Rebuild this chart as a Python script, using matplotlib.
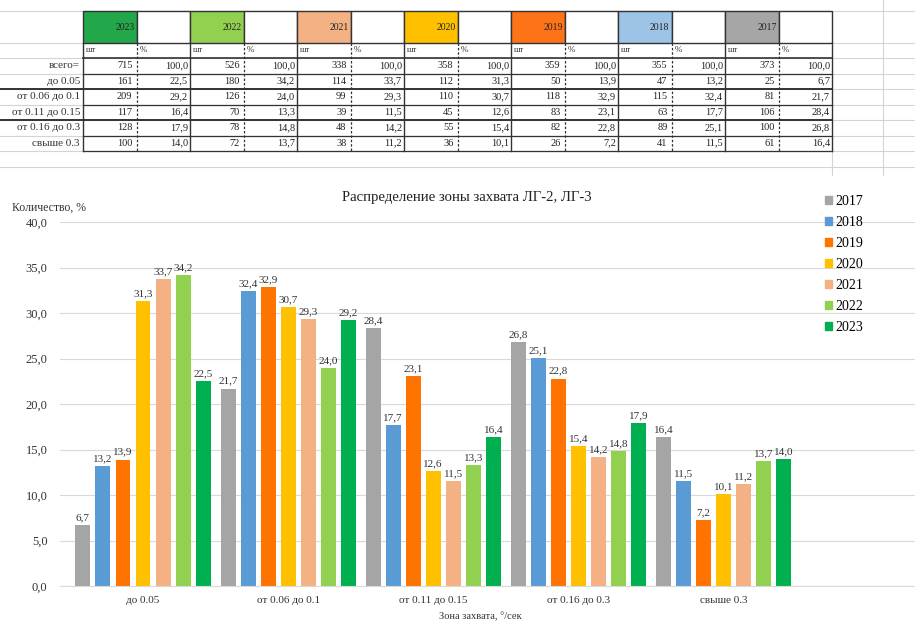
import numpy as np
import matplotlib.pyplot as plt
from matplotlib.patches import Rectangle, Patch

plt.rcParams['font.family'] = ['Liberation Serif', 'DejaVu Serif']

# data (table + chart)
years = ['2017', '2018', '2019', '2020', '2021', '2022', '2023']
zones = ['до 0.05', 'от 0.06 до 0.1', 'от 0.11 до 0.15', 'от 0.16 до 0.3', 'свыше 0.3']
row_names = ['всего='] + zones

cnt_2017 = [373, 25, 81, 106, 100, 61]
cnt_2018 = [355, 47, 115, 63, 89, 41]
cnt_2019 = [359, 50, 118, 83, 82, 26]
cnt_2020 = [358, 112, 110, 45, 55, 36]
cnt_2021 = [338, 114, 99, 39, 48, 38]
cnt_2022 = [526, 180, 126, 70, 78, 72]
cnt_2023 = [715, 161, 209, 117, 128, 100]

pct_2017 = [100.0, 6.7, 21.7, 28.4, 26.8, 16.4]
pct_2018 = [100.0, 13.2, 32.4, 17.7, 25.1, 11.5]
pct_2019 = [100.0, 13.9, 32.9, 23.1, 22.8, 7.2]
pct_2020 = [100.0, 31.3, 30.7, 12.6, 15.4, 10.1]
pct_2021 = [100.0, 33.7, 29.3, 11.5, 14.2, 11.2]
pct_2022 = [100.0, 34.2, 24.0, 13.3, 14.8, 13.7]
pct_2023 = [100.0, 22.5, 29.2, 16.4, 17.9, 14.0]

counts = [cnt_2017, cnt_2018, cnt_2019, cnt_2020, cnt_2021, cnt_2022, cnt_2023]
pcts = [pct_2017, pct_2018, pct_2019, pct_2020, pct_2021, pct_2022, pct_2023]

bar_colors = ['#A5A5A5', '#5B9BD5', '#FF7300', '#FFC000', '#F4B183', '#92D050', '#00B050']
head_colors = ['#A6A6A6', '#9DC3E6', '#FF7318', '#FFC000', '#F4B183', '#92D050', '#22A84A']


def fmt(v):
    return f'{v:.1f}'.replace('.', ',')


fig = plt.figure(figsize=(9.15, 6.22), dpi=100)

# ---- spreadsheet table at top ----
ax_t = fig.add_axes([0, 0, 1, 1])
ax_t.set_xlim(0, 915)
ax_t.set_ylim(622, 0)
ax_t.axis('off')

x0 = 83
cw = 53.5
x1 = x0 + 14 * cw
row_h = 15.5
row_top = 58
row_edges = [row_top + row_h * i for i in range(7)]
faint = '#D4D4D4'
dark = '#333333'

# faint spreadsheet grid
for y in [11, 43] + row_edges + [167]:
    ax_t.plot([0, 915], [y, y], color=faint, lw=0.8, zorder=0)
for x in [883]:
    ax_t.plot([x, x], [0, 175], color=faint, lw=0.8, zorder=0)
ax_t.plot([x1, x1], [151, 175], color=faint, lw=0.8, zorder=0)

table_order = list(range(len(years)))[::-1]
for j, k in enumerate(table_order):
    xs = x0 + 2 * j * cw
    ax_t.add_patch(Rectangle((xs, 11), cw, 32, facecolor=head_colors[k],
                             edgecolor=dark, lw=1, zorder=2))
    ax_t.add_patch(Rectangle((xs + cw, 11), cw, 32, facecolor='white',
                             edgecolor=dark, lw=1, zorder=2))
    ax_t.text(xs + cw - 2, 28, years[k], ha='right', va='center', fontsize=7, color='#222222', zorder=3)
    ax_t.text(xs + 3, 50.5, 'шт', ha='left', va='center', fontsize=6, color='#333333')
    ax_t.text(xs + cw + 3, 50.5, '%', ha='left', va='center', fontsize=6.5, color='#333333')
    for i in range(len(row_names)):
        yc = row_edges[i] + row_h / 2
        ax_t.text(xs + cw - 4, yc, str(counts[k][i]), ha='right', va='center', fontsize=7.5, color='#222222')
        ax_t.text(xs + 2 * cw - 2, yc, fmt(pcts[k][i]), ha='right', va='center', fontsize=7.5, color='#222222')
    ax_t.plot([xs + cw, xs + cw], [43, row_edges[-1]], color=dark, lw=0.9, ls=(0, (2, 1.5)), zorder=2)
    ax_t.plot([xs + 2 * cw, xs + 2 * cw], [43, row_edges[-1]], color=dark, lw=1, zorder=2)

ax_t.plot([x0, x0], [43, row_edges[-1]], color=dark, lw=1, zorder=2)
ax_t.plot([x0, x1], [row_top, row_top], color=dark, lw=1.2, zorder=2)
for i, y in enumerate(row_edges[1:]):
    thick = i in (1, 3)
    ax_t.plot([0 if thick else x0, x1], [y, y], color=dark, lw=1.4 if thick else 0.9, zorder=2)

for i, name in enumerate(row_names):
    ax_t.text(x0 - 3, row_edges[i] + row_h / 2, name, ha='right', va='center', fontsize=8, color='#333333')

# ---- bar chart ----
ax = fig.add_axes([60 / 915, 36 / 622, 855 / 915, 364 / 622])
ax.set_facecolor('none')
x = np.arange(len(zones))
step = 0.138
w = 0.103
for k, yr in enumerate(years):
    vals = pcts[k][1:]
    bars = ax.bar(x + (k - 3) * step, vals, w, color=bar_colors[k], label=yr, zorder=2)
    ax.bar_label(bars, labels=[fmt(v) for v in vals], padding=2, fontsize=8, color='#333333')

ax.set_xlim(-0.572, 5.32)
ax.set_ylim(0, 40)
ax.set_yticks(np.arange(0, 41, 5))
ax.set_yticklabels([fmt(v) for v in np.arange(0, 41, 5)])
ax.set_xticks(x)
ax.set_xticklabels(zones)
ax.yaxis.grid(True, color='#D9D9D9', lw=0.8)
ax.set_axisbelow(True)
for s in ['top', 'right', 'left']:
    ax.spines[s].set_visible(False)
ax.spines['bottom'].set_color('#D9D9D9')
ax.tick_params(axis='y', length=0, labelsize=9, pad=9, labelcolor='#333333')
ax.tick_params(axis='x', length=0, labelsize=8, pad=7, labelcolor='#333333')

handles = [Patch(color=c) for c in bar_colors]
fig.legend(handles, years, loc='upper left', bbox_to_anchor=(818 / 915, 1 - 188 / 622),
           frameon=False, fontsize=10, labelspacing=0.58, handlelength=0.5,
           handleheight=0.5, handletextpad=0.25, borderpad=0)

fig.text(467 / 915, 1 - 197 / 622, 'Распределение зоны захвата ЛГ-2, ЛГ-3',
         ha='center', va='center', fontsize=10.6, color='#222222')
fig.text(12 / 915, 1 - 208 / 622, 'Количество, %', ha='left', va='center', fontsize=8.5, color='#333333')
fig.text(480 / 915, 1 - 617 / 622, 'Зона захвата, °/сек', ha='center', va='center', fontsize=7.5, color='#333333')

fig.savefig('out.png', dpi=100)
